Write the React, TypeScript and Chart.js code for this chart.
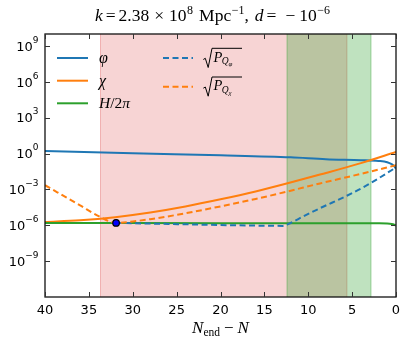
import { useEffect, useRef } from "react";
import { Chart, registerables } from "chart.js";

Chart.register(...registerables);

// ---- data ----
const phiN = [40, 30, 20, 12, 8, 4, 2, 1, 0.5, 0.2, 0];
const phiVals = [1.65, 1.05, 0.72, 0.49, 0.34, 0.28, 0.24, 0.19, 0.13, 0.085, 0.055];

const chiN = [40, 36, 32, 28, 24, 20, 16, 12.46, 8.66, 4, 0];
const chiVals = [1.91e-6, 2.63e-6, 4.79e-6, 1.17e-5, 3.72e-5, 1.48e-4, 6.76e-4, 3.09e-3, 1.74e-2, 0.158, 1.35];

const hN = [40, 30, 20, 10, 5, 2, 1, 0.5, 0.2, 0];
const hVals = [1.58e-6, 1.54e-6, 1.51e-6, 1.49e-6, 1.48e-6, 1.46e-6, 1.4e-6, 1.28e-6, 1.12e-6, 0.95e-6];

const qPhiN = [31.9, 24.6, 16.6, 12.9, 12.3, 11, 8.7, 5.6, 3.3, 0];
const qPhiVals = [1.58e-6, 1.23e-6, 9.5e-7, 8.9e-7, 1.23e-6, 3.8e-6, 2.6e-5, 2.95e-4, 2.24e-3, 0.068];

const qChiN = [40, 36, 33.73, 31.9, 30, 28, 24, 20, 16, 12.46, 8.66, 4, 0];
const qChiVals = [2.24e-3, 4.57e-5, 5.0e-6, 1.58e-6, 2.09e-6, 3.24e-6, 1.0e-5, 3.8e-5, 1.58e-4, 6.46e-4, 3.16e-3, 2.0e-2, 0.105];

const markerN = [31.9];
const markerVals = [1.58e-6];

const spanStarts = [33.73, 12.46];
const spanEnds = [5.55, 2.81];

const xTicks = [40, 35, 30, 25, 20, 15, 10, 5, 0];
const xTickLabels = ["40", "35", "30", "25", "20", "15", "10", "5", "0"];
const yTicks = [1e-9, 1e-6, 1e-3, 1, 1e3, 1e6, 1e9];
const yTickExps = ["-9", "-6", "-3", "0", "3", "6", "9"];

// ---- styles ----
const BLUE = "#1f77b4";
const ORANGE = "#ff7f0e";
const GREEN = "#2ca02c";
const SPAN_FILLS = ["rgba(214,39,40,0.2)", "rgba(44,160,44,0.3)"];
const SERIF = '"Liberation Serif", "DejaVu Serif", serif';
const SANS = '"DejaVu Sans", sans-serif';

const pts = (xs: number[], ys: number[]) => xs.map((x, i) => ({ x, y: ys[i] }));

type Run = { t: string; font: string; dy?: number; gap?: number };

function runsWidth(ctx: CanvasRenderingContext2D, runs: Run[]) {
  let w = 0;
  for (const r of runs) {
    ctx.font = r.font;
    w += ctx.measureText(r.t).width + (r.gap || 0);
  }
  return w;
}

function drawRuns(
  ctx: CanvasRenderingContext2D,
  runs: Run[],
  x0: number,
  baseline: number,
  align: "left" | "center" | "right" = "left"
) {
  const w = runsWidth(ctx, runs);
  let x = align === "center" ? x0 - w / 2 : align === "right" ? x0 - w : x0;
  ctx.textAlign = "left";
  ctx.textBaseline = "alphabetic";
  for (const r of runs) {
    ctx.font = r.font;
    ctx.fillText(r.t, x, baseline + (r.dy || 0));
    x += ctx.measureText(r.t).width + (r.gap || 0);
  }
}

const it = (s: number) => `italic ${s}px ${SERIF}`;
const rm = (s: number) => `${s}px ${SERIF}`;

const decor = {
  id: "decor",
  beforeDatasetsDraw(chart: any) {
    const { ctx, chartArea: a, scales } = chart;
    const xs = scales.x;
    ctx.save();
    ctx.beginPath();
    ctx.rect(a.left, a.top, a.right - a.left, a.bottom - a.top);
    ctx.clip();
    spanStarts.forEach((s, i) => {
      const p1 = xs.getPixelForValue(s);
      const p2 = xs.getPixelForValue(spanEnds[i]);
      ctx.fillStyle = SPAN_FILLS[i];
      ctx.fillRect(p1, a.top, p2 - p1, a.bottom - a.top);
      ctx.strokeStyle = SPAN_FILLS[i];
      ctx.lineWidth = 1;
      ctx.beginPath();
      ctx.moveTo(p1 + 0.5, a.top);
      ctx.lineTo(p1 + 0.5, a.bottom);
      ctx.moveTo(p2 - 0.5, a.top);
      ctx.lineTo(p2 - 0.5, a.bottom);
      ctx.stroke();
    });
    ctx.restore();
  },
  afterDatasetsDraw(chart: any) {
    const { ctx, chartArea: a, scales } = chart;
    const xs = scales.x;
    const ys = scales.y;
    ctx.save();
    // frame
    ctx.strokeStyle = "#111";
    ctx.lineWidth = 1.3;
    ctx.strokeRect(a.left, a.top, a.right - a.left, a.bottom - a.top);
    // inward ticks
    ctx.strokeStyle = "#333";
    ctx.lineWidth = 1;
    const TL = 5;
    ctx.beginPath();
    xTicks.forEach((v) => {
      const px = Math.round(xs.getPixelForValue(v)) + 0.5;
      ctx.moveTo(px, a.bottom);
      ctx.lineTo(px, a.bottom - TL);
      ctx.moveTo(px, a.top);
      ctx.lineTo(px, a.top + TL);
    });
    yTicks.forEach((v) => {
      const py = Math.round(ys.getPixelForValue(v)) + 0.5;
      ctx.moveTo(a.left, py);
      ctx.lineTo(a.left + TL, py);
      ctx.moveTo(a.right, py);
      ctx.lineTo(a.right - TL, py);
    });
    ctx.stroke();

    // tick labels
    ctx.fillStyle = "#000";
    xTicks.forEach((v, i) => {
      const px = xs.getPixelForValue(v);
      drawRuns(ctx, [{ t: xTickLabels[i], font: `13px ${SANS}` }], px, a.bottom + 16.5, "center");
    });
    yTicks.forEach((v, i) => {
      const py = ys.getPixelForValue(v);
      const e = yTickExps[i].replace("-", "\u2212");
      drawRuns(
        ctx,
        [
          { t: "10", font: `13px ${SANS}` },
          { t: e, font: `9px ${SANS}`, dy: -8 },
        ],
        a.left - 6.5,
        py + 4.8,
        "right"
      );
    });

    // title
    drawRuns(
      ctx,
      [
        { t: "k", font: it(17.5), gap: 3 },
        { t: "=", font: rm(17.5), gap: 3 },
        { t: "2.38", font: rm(17.5), gap: 5 },
        { t: "\u00d7", font: rm(17.5), gap: 5 },
        { t: "10", font: rm(17.5), gap: 0.5 },
        { t: "8", font: rm(12), dy: -7, gap: 6 },
        { t: "Mpc", font: rm(17.5), gap: 0.5 },
        { t: "\u22121", font: rm(12), dy: -7 },
        { t: ",", font: rm(17.5), gap: 6 },
        { t: "d", font: it(17.5), gap: 3 },
        { t: "=", font: rm(17.5), gap: 9 },
        { t: "\u2212", font: rm(17.5), gap: 4 },
        { t: "10", font: rm(17.5), gap: 0.5 },
        { t: "\u22126", font: rm(12), dy: -7 },
      ],
      212.5,
      20.5,
      "center"
    );

    // x axis label
    drawRuns(
      ctx,
      [
        { t: "N", font: it(17), gap: 0 },
        { t: "end", font: rm(11.5), dy: 3, gap: 4 },
        { t: "\u2212", font: rm(17), gap: 4 },
        { t: "N", font: it(17) },
      ],
      (a.left + a.right) / 2,
      333,
      "center"
    );

    // legend
    const col1 = [
      { c: BLUE, y: 58, runs: [{ t: "\u03c6", font: it(16) }] as Run[] },
      { c: ORANGE, y: 80.7, runs: [{ t: "\u03c7", font: it(16) }] as Run[] },
      {
        c: GREEN,
        y: 103.3,
        runs: [
          { t: "H", font: it(15.5) },
          { t: "/2", font: rm(15.5) },
          { t: "\u03c0", font: it(15.5) },
        ] as Run[],
      },
    ];
    col1.forEach((e) => {
      ctx.strokeStyle = e.c;
      ctx.lineWidth = 2;
      ctx.setLineDash([]);
      ctx.beginPath();
      ctx.moveTo(57, e.y);
      ctx.lineTo(88, e.y);
      ctx.stroke();
      ctx.fillStyle = "#000";
      drawRuns(ctx, e.runs, 99, e.y + 5, "left");
    });
    const col2 = [
      { c: BLUE, y: 58, sub: "\u03c6" },
      { c: ORANGE, y: 86.7, sub: "\u03c7" },
    ];
    col2.forEach((e) => {
      ctx.strokeStyle = e.c;
      ctx.lineWidth = 2;
      ctx.setLineDash([6, 3.5]);
      ctx.beginPath();
      ctx.moveTo(163, e.y);
      ctx.lineTo(193, e.y);
      ctx.stroke();
      ctx.setLineDash([]);
      // radical
      ctx.strokeStyle = "#000";
      ctx.lineWidth = 1;
      const t = e.y - 9.7;
      ctx.beginPath();
      ctx.moveTo(203.3, e.y + 1.5);
      ctx.lineTo(205.3, e.y + 0.3);
      ctx.lineTo(208.2, e.y + 9.5);
      ctx.lineTo(212, t);
      ctx.lineTo(242, t);
      ctx.stroke();
      ctx.fillStyle = "#000";
      drawRuns(
        ctx,
        [
          { t: "P", font: it(14.5), gap: -0.5 },
          { t: "Q", font: it(9.5), dy: 2.5, gap: -0.3 },
          { t: e.sub, font: it(7), dy: 4.5 },
        ],
        213.5,
        e.y + 3.7,
        "left"
      );
    });
    ctx.restore();
  },
};

export default function App() {
  const ref = useRef<HTMLCanvasElement | null>(null);
  useEffect(() => {
    if (!ref.current) return;
    const solid = {
      borderWidth: 2,
      pointRadius: 0,
      fill: false,
      cubicInterpolationMode: "monotone" as const,
    };
    const chart = new Chart(ref.current, {
      type: "line",
      data: {
        datasets: [
          { ...solid, data: pts(markerN, markerVals), showLine: false, pointRadius: 3.3, pointBorderWidth: 1.2, pointBackgroundColor: "#0000ff", pointBorderColor: "#000", borderColor: "#000", order: 0 } as any,
          { ...solid, data: pts(qChiN, qChiVals), borderColor: ORANGE, borderDash: [6, 3.5], order: 1 },
          { ...solid, data: pts(qPhiN, qPhiVals), borderColor: BLUE, borderDash: [6, 3.5], order: 2 },
          { ...solid, data: pts(hN, hVals), borderColor: GREEN, order: 3 },
          { ...solid, data: pts(chiN, chiVals), borderColor: ORANGE, order: 4 },
          { ...solid, data: pts(phiN, phiVals), borderColor: BLUE, order: 5 },
        ],
      },
      options: {
        animation: false,
        responsive: false,
        devicePixelRatio: 1,
        layout: { padding: { left: 45, right: 15, top: 34, bottom: 51 } },
        plugins: { legend: { display: false }, title: { display: false }, tooltip: { enabled: false } },
        events: [],
        scales: {
          x: {
            type: "linear",
            min: 0,
            max: 40,
            reverse: true,
            grid: { display: false, drawTicks: false },
            ticks: { display: false },
            border: { display: false },
          },
          y: {
            type: "logarithmic",
            min: 1e-12,
            max: 1e10,
            grid: { display: false, drawTicks: false },
            ticks: { display: false },
            border: { display: false },
          },
        },
      },
      plugins: [decor],
    });
    return () => chart.destroy();
  }, []);
  return (
    <div style={{ position: "absolute", left: 0, top: 0, width: 411, height: 348, background: "#fff" }}>
      <canvas ref={ref} width={411} height={348} />
    </div>
  );
}
